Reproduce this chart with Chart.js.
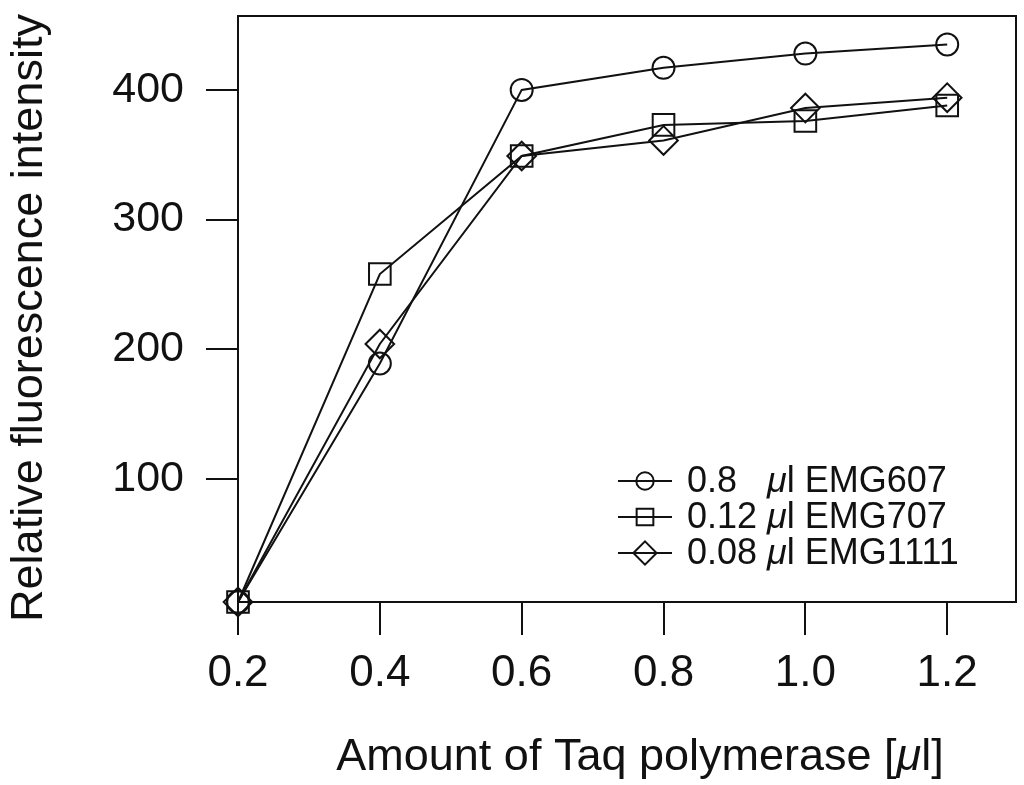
<!DOCTYPE html>
<html>
<head>
<meta charset="utf-8">
<title>Taq polymerase titration</title>
<script src="https://cdn.jsdelivr.net/npm/chart.js@4/dist/chart.umd.min.js"></script>
<style>
  html, body { margin: 0; padding: 0; background: #fff; }
  #wrap { width: 1024px; height: 785px; }
</style>
</head>
<body>
<div id="wrap"><canvas id="fluoChart" width="1024" height="785"></canvas></div>
<script>
/* fluorescence vs Taq amount — three primer/probe mixes */
const taqAmount = [0.2, 0.4, 0.6, 0.8, 1.0, 1.2];
const emg607 = [5, 189, 400, 417, 428, 435];
const emg707 = [5, 258, 349, 373, 376, 388];
const emg1111 = [5, 204, 349, 361, 386, 394];

const xTicks = [0.2, 0.4, 0.6, 0.8, 1.0, 1.2];
const xTickLabels = ['0.2', '0.4', '0.6', '0.8', '1.0', '1.2'];
const yTicks = [100, 200, 300, 400];
const yTickLabels = ['100', '200', '300', '400'];

const legendAmounts = ['0.8', '0.12', '0.08'];
const legendNames = ['EMG607', 'EMG707', 'EMG1111'];

(function () {
  'use strict';
  const INK = '#111';
  const FONT = '"Liberation Sans", Arial, Helvetica, sans-serif';
  const $ = (id) => document.getElementById(id);

  const styles = [
    { pointStyle: 'circle', r: 11, lr: 8.7 },
    { pointStyle: 'rect', r: 15.3, lr: 11.8 },
    { pointStyle: 'rectRot', r: 14.3, lr: 11.6 },
  ];
  const series = [emg607, emg707, emg1111];

  const datasets = series.map((vals, i) => ({
    label: legendAmounts[i] + ' \u03bcl ' + legendNames[i],
    data: taqAmount.map((x, k) => ({ x, y: vals[k] })),
    borderColor: INK,
    borderWidth: 2,
    backgroundColor: 'rgba(0,0,0,0)',
    pointStyle: styles[i].pointStyle,
    pointRadius: styles[i].r,
    pointHoverRadius: styles[i].r,
    pointBorderColor: INK,
    pointBackgroundColor: 'rgba(0,0,0,0)',
    pointBorderWidth: 2,
    tension: 0,
    clip: false,
  }));

  // text with an italic mu in the middle: [before, 'μ', after]
  function muText(ctx, size, parts, x, y) {
    const fonts = [size + 'px ' + FONT, 'italic ' + size + 'px ' + FONT, size + 'px ' + FONT];
    parts.forEach((t, k) => {
      ctx.font = fonts[k];
      ctx.fillText(t, x, y);
      x += ctx.measureText(t).width;
    });
  }
  function muWidth(ctx, size, parts) {
    const fonts = [size + 'px ' + FONT, 'italic ' + size + 'px ' + FONT, size + 'px ' + FONT];
    return parts.reduce((s, t, k) => { ctx.font = fonts[k]; return s + ctx.measureText(t).width; }, 0);
  }

  // frame + axis titles + legend (R-style, drawn by hand)
  const decor = {
    id: 'decor',
    beforeDatasetsDraw(chart) {
      const { ctx, chartArea: a } = chart;
      ctx.save();
      ctx.strokeStyle = INK;
      ctx.lineWidth = 2;
      ctx.strokeRect(a.left, a.top, a.right - a.left, a.bottom - a.top);
      ctx.restore();
    },
    afterDraw(chart) {
      const ctx = chart.ctx;
      ctx.save();
      ctx.fillStyle = INK;
      ctx.textAlign = 'left';
      ctx.textBaseline = 'alphabetic';

      // x title
      const xt = ['Amount of Taq polymerase [', '\u03bc', 'l]'];
      muText(ctx, 45, xt, 640 - muWidth(ctx, 45, xt) / 2, 770);

      // y title
      ctx.save();
      ctx.translate(42, 318);
      ctx.rotate(-Math.PI / 2);
      ctx.textAlign = 'center';
      ctx.font = '45px ' + FONT;
      ctx.fillText('Relative fluorescence intensity', 0, 0);
      ctx.restore();

      // legend
      const lx0 = 618, lx1 = 672, tx = 687;
      legendAmounts.forEach((amt, i) => {
        const y = 481 + i * 36;
        ctx.strokeStyle = INK;
        ctx.lineWidth = 2;
        ctx.beginPath();
        ctx.moveTo(lx0, y);
        ctx.lineTo(lx1, y);
        ctx.stroke();
        ctx.fillStyle = 'rgba(0,0,0,0)';
        Chart.helpers.drawPoint(ctx, { pointStyle: styles[i].pointStyle, radius: styles[i].lr, borderWidth: 2 }, (lx0 + lx1) / 2, y);

        ctx.fillStyle = INK;
        ctx.textBaseline = 'middle';
        const pre = amt.length === 3 ? amt + '   ' : amt + ' ';
        muText(ctx, 36, [pre, '\u03bc', 'l ' + legendNames[i]], tx, y + 1);
      });
      ctx.restore();
    },
  };

  new Chart($('fluoChart').getContext('2d'), {
    type: 'line',
    data: { datasets },
    options: {
      responsive: false,
      devicePixelRatio: 1,
      animation: false,
      events: [],
      layout: { autoPadding: false, padding: { top: 16, right: 8, left: 0, bottom: 0 } },
      plugins: { legend: { display: false }, tooltip: { enabled: false } },
      scales: {
        x: {
          type: 'linear',
          min: 0.2,
          max: 1.297,
          afterBuildTicks: (s) => { s.ticks = xTicks.map((v) => ({ value: v })); },
          afterFit: (s) => { s.height = 183; s.paddingLeft = 0; s.paddingRight = 0; },
          border: { display: false },
          grid: { drawOnChartArea: false, color: INK, lineWidth: 2, tickLength: 33 },
          ticks: {
            color: INK,
            font: { family: FONT, size: 44 },
            padding: 12,
            maxRotation: 0,
            callback: (v, i) => xTickLabels[i],
          },
        },
        y: {
          type: 'linear',
          min: 5,
          max: 457,
          afterBuildTicks: (s) => { s.ticks = yTicks.map((v) => ({ value: v })); },
          afterFit: (s) => { s.width = 238; s.paddingTop = 0; s.paddingBottom = 0; },
          border: { display: false },
          grid: { drawOnChartArea: false, color: INK, lineWidth: 2, tickLength: 32 },
          ticks: {
            color: INK,
            font: { family: FONT, size: 43 },
            padding: 22,
            callback: (v, i) => yTickLabels[i],
          },
        },
      },
    },
    plugins: [decor],
  });
})();
</script>
</body>
</html>
